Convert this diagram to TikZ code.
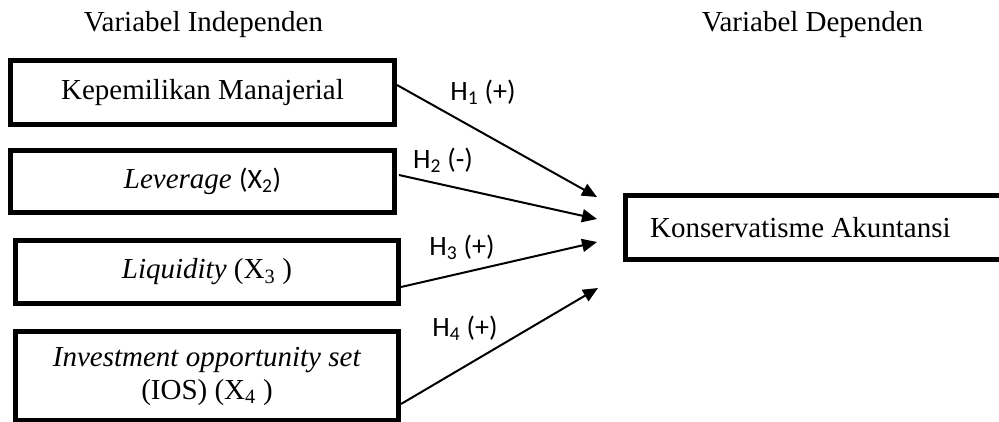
\documentclass[tikz,border=0pt]{standalone}
\usepackage{fontspec}
\setmainfont{Liberation Serif}
\newfontfamily\lblfont{Carlito}
\usetikzlibrary{arrows.meta,calc}
\begin{document}
\begin{tikzpicture}[x=1pt,y=-1pt,
  varbox/.style={draw=black, line width=5pt, align=center, inner sep=0pt,
    font=\fontsize{29}{33}\selectfont},
  link/.style={line width=2pt, -{Triangle[length=15pt,width=13pt]}},
  hyp/.style={font=\lblfont\fontsize{28}{30}\selectfont, inner sep=0pt},
  head/.style={font=\fontsize{29}{33}\selectfont, anchor=base, inner sep=0pt}
]
\useasboundingbox (0,0) rectangle (999,421);
\clip (0,0) rectangle (999,421);

\node[head] (hi) at (203.5,31) {Variabel Independen};
\node[head] (hd) at (812.5,31) {Variabel Dependen};

\node[varbox, minimum width=384pt, minimum height=64pt] (k1) at (202.5,92.5) {Kepemilikan Manajerial};
\node[varbox, minimum width=384pt, minimum height=62pt] (k2) at (202.5,181.5) {\textit{Leverage} {\lblfont\fontsize{28}{30}\selectfont (X\textsubscript{2})}};
\node[varbox, minimum width=383pt, minimum height=63pt] (k3) at (207,272) {\textit{Liquidity} (X\textsubscript{3} )};
\node[varbox, minimum width=383pt, minimum height=89pt] (k4) at (207,376) {\textit{Investment opportunity set}\\(IOS) (X\textsubscript{4} )};

\node[varbox, anchor=west, minimum width=384.5pt, minimum height=64pt] (ka) at (623,227.5) {};
\node[font=\fontsize{29}{33}\selectfont, anchor=west, inner sep=0pt] (kat) at (650,227.5) {Konservatisme Akuntansi};

\coordinate (t1) at (597,197);
\coordinate (t2) at (597,219);
\coordinate (t3) at (597,242);
\coordinate (t4) at (598,288);

\draw[link] ([yshift=7.5pt]k1.east) -- (t1);
\draw[link] ([yshift=6.5pt,xshift=2pt]k2.east) -- (t2);
\draw[link] ([yshift=-15pt]k3.east) -- (t3);
\draw[link] ([yshift=-28pt]k4.east) -- (t4);

\node[hyp] (h1) at (483,92) {H\textsubscript{1} (+)};
\node[hyp] (h2) at (443,160) {H\textsubscript{2} (-)};
\node[hyp] (h3) at (462,247) {H\textsubscript{3} (+)};
\node[hyp] (h4) at (465,328) {H\textsubscript{4} (+)};
\end{tikzpicture}
\end{document}
